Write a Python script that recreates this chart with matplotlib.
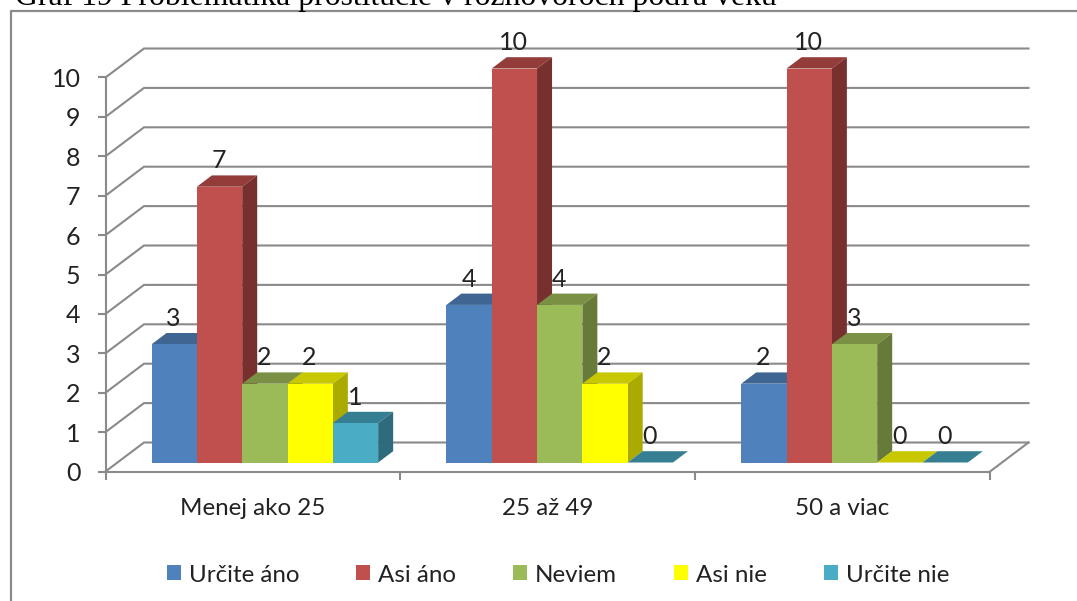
#!/usr/bin/env python3
"""Graf 19: clustered bars with a hand-built Excel style 3D look."""

from __future__ import annotations

import matplotlib

matplotlib.use("Agg")
import matplotlib.pyplot as plt
from matplotlib.patches import Patch, Polygon

CATEGORIES = ["Menej ako 25", "25 až 49", "50 a viac"]
SERIES = ["Určite áno", "Asi áno", "Neviem", "Asi nie", "Určite nie"]
URCITE_ANO = [3, 4, 2]
ASI_ANO = [7, 10, 10]
NEVIEM = [2, 4, 3]
ASI_NIE = [2, 2, 0]
URCITE_NIE = [1, 0, 0]
VALUES = [URCITE_ANO, ASI_ANO, NEVIEM, ASI_NIE, URCITE_NIE]
TITLE = "Graf 19 Problematika prostitúcie v rozhovoroch podľa veku"

FRONT = ["#4F81BD", "#C0504D", "#9BBB59", "#FFFF00", "#4BACC6"]
TOP = ["#3F6592", "#943C3A", "#7A9045", "#C8C800", "#367F93"]
SIDE = ["#36587F", "#78302E", "#677A3A", "#AAAA00", "#2E6C7D"]
GREY = "#8A8A8A"
TEXT = "#222222"

W, H = 1077, 601
# pixel layout of the front plane
AX_LEFT, AX_RIGHT, AX_Y0, AX_Y10 = 105.5, 990.0, 471.5, 77.5
# how far the back wall is shifted, in data units
DX = 38.5 / (AX_RIGHT - AX_LEFT) * 3
DY = 29.0 / (AX_Y0 - AX_Y10) * 10
BAR_W = 0.1537
D_FRONT, D_BACK = 0.31, 0.70


def project(x: float, y: float, d: float) -> tuple[float, float]:
    return x + d * DX, y + d * DY


def draw_bar(ax, x: float, v: float, i: int) -> None:
    x1 = x + BAR_W
    top = [project(x, v, D_FRONT), project(x1, v, D_FRONT),
           project(x1, v, D_BACK), project(x, v, D_BACK)]
    side = [project(x1, 0, D_FRONT), project(x1, v, D_FRONT),
            project(x1, v, D_BACK), project(x1, 0, D_BACK)]
    front = [project(x, 0, D_FRONT), project(x1, 0, D_FRONT),
             project(x1, v, D_FRONT), project(x, v, D_FRONT)]
    for pts, col in ((top, TOP[i]), (side, SIDE[i]), (front, FRONT[i])):
        ax.add_patch(Polygon(pts, closed=True, facecolor=col, edgecolor="none",
                             clip_on=False, zorder=3))


def main() -> int:
    plt.rcParams["font.family"] = ["Lato", "DejaVu Sans"]
    fig = plt.figure(figsize=(W / 100, H / 100), dpi=100)
    ax = fig.add_axes([AX_LEFT / W, 1 - AX_Y0 / H,
                       (AX_RIGHT - AX_LEFT) / W, (AX_Y0 - AX_Y10) / H])
    ax.set_xlim(0, 3)
    ax.set_ylim(0, 10)

    for s in ("top", "right"):
        ax.spines[s].set_visible(False)
    for s in ("left", "bottom"):
        ax.spines[s].set_color(GREY)
        ax.spines[s].set_linewidth(1.5)

    ax.set_yticks(range(0, 11))
    ax.set_xticks([0, 1, 2, 3], labels=[])
    ax.set_xticks([0.5, 1.5, 2.5], labels=CATEGORIES, minor=True)
    ax.tick_params(axis="both", which="major", color=GREY, width=1.5, length=6)
    ax.tick_params(axis="y", labelsize=18, labelcolor=TEXT, pad=12)
    ax.tick_params(axis="x", which="minor", length=0, pad=19,
                   labelsize=17.4, labelcolor=TEXT)

    # walls and floor
    for v in range(0, 11):
        xs, ys = zip(project(0, v, 0), project(0, v, 1), project(3, v, 1))
        ax.plot(xs, ys, color=GREY, lw=1.5, clip_on=False, zorder=1,
                solid_joinstyle="miter")
    xs, ys = zip(project(3, 0, 0), project(3, 0, 1))
    ax.plot(xs, ys, color=GREY, lw=1.5, clip_on=False, zorder=1)

    gap = (1 - BAR_W * len(SERIES)) / 2
    for c in range(len(CATEGORIES)):
        for i, series in enumerate(VALUES):
            x = c + gap + i * BAR_W
            v = series[c]
            draw_bar(ax, x, v, i)
            lx, ly = project(x + BAR_W / 2, v, D_BACK)
            ax.annotate(str(v), (lx - (D_BACK - D_FRONT) * DX, ly),
                        xytext=(-0.4, 10.5), textcoords="offset points",
                        ha="center", va="center", fontsize=18,
                        color=TEXT, zorder=4, annotation_clip=False)

    handles = [Patch(facecolor=c, edgecolor="none") for c in FRONT]
    fig.legend(handles, SERIES, ncol=5, frameon=False, fontsize=17.4,
               loc="center", bbox_to_anchor=(558 / W, 1 - 575 / H),
               labelcolor=TEXT, handlelength=0.58, handleheight=0.58,
               handletextpad=0.33, columnspacing=2.36, borderpad=0)

    # outer frame of the pasted chart, runs off the image
    fig.add_artist(plt.Line2D([11 / W, 11 / W, 1], [0, 1 - 11 / H, 1 - 11 / H],
                              color=GREY, lw=1.6))
    fig.text(15 / W, 1 - 5 / H, TITLE, family="Liberation Serif", fontsize=22.9,
             color="black", ha="left", va="baseline")

    fig.savefig("out.png", dpi=100)
    plt.close(fig)
    return 0


if __name__ == "__main__":
    raise SystemExit(main())
